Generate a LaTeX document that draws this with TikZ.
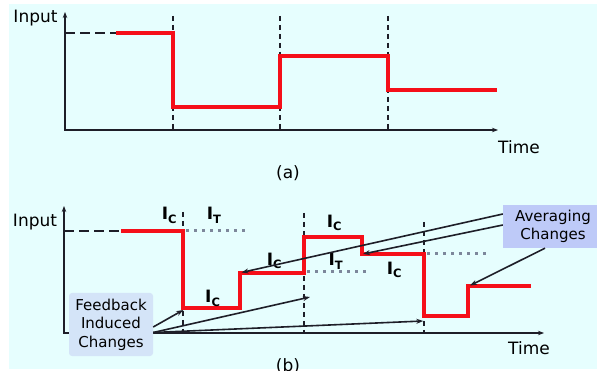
\documentclass[tikz,border=0pt]{standalone}
\usepackage{fontspec}
\setmainfont{DejaVu Sans}
\usetikzlibrary{arrows.meta}
\definecolor{bgc}{RGB}{230,254,254}
\definecolor{sig}{RGB}{245,15,25}
\definecolor{dotc}{RGB}{125,135,155}
\definecolor{boxa}{RGB}{190,202,248}
\definecolor{boxf}{RGB}{212,228,248}
\definecolor{axc}{RGB}{30,30,40}
\newcommand{\lblIC}{I\raisebox{-3.3pt}{\fontsize{11.5}{12}\selectfont C}}
\newcommand{\lblIT}{I\raisebox{-3.3pt}{\fontsize{11.5}{12}\selectfont T}}
\begin{document}
\begin{tikzpicture}[x=1pt,y=-1pt,
 axis/.style={draw=axc,line width=1.6pt,{Stealth[length=6pt,width=4.5pt]}-{Stealth[length=6pt,width=4.5pt]}},
 signal/.style={draw=sig,line width=3.5pt,line join=miter},
 vdash/.style={draw=axc,line width=1.3pt,dash pattern=on 5pt off 4pt},
 hdash/.style={draw=axc,line width=1.3pt,dash pattern=on 10pt off 5pt},
 dotline/.style={draw=dotc,line width=3pt,dash pattern=on 3pt off 5pt,dash phase=-3pt},
 lbl/.style={font=\fontsize{17}{20}\selectfont,inner sep=0pt},
 ic/.style={font=\fontsize{17}{20}\selectfont\bfseries,inner sep=0pt,anchor=base west},
 pointer/.style={draw=axc,line width=1.6pt,-{Stealth[length=7pt,width=5pt]}},
 note/.style={font=\fontsize{15}{18.5}\selectfont,align=center,inner sep=0pt}
]
\useasboundingbox (0,0) rectangle (597,371);
\fill[bgc] (9,4) rectangle (597,369);

% ---------------- panel (a)
\coordinate (ay) at (65,12);
\coordinate (a0) at (65,130);
\coordinate (ax) at (498,130);
\draw[axis] (ay) -- (a0) -- (ax);
\node[lbl,anchor=base] (ina) at (35.5,22.5) {Input};
\node[lbl,anchor=base west] (tima) at (498,154) {Time};
\node[lbl,anchor=base] (capa) at (288,179) {(a)};

\coordinate (a1t) at (173,16); \coordinate (a1b) at (173,130);
\coordinate (a2t) at (280,16); \coordinate (a2b) at (280,130);
\coordinate (a3t) at (388,16); \coordinate (a3b) at (388,130);
\draw[vdash] (a1t) -- (a1b);
\draw[vdash] (a2t) -- (a2b);
\draw[vdash] (a3t) -- (a3b);

\coordinate (ah0) at (65,33);
\coordinate (as0) at (116,33);
\draw[hdash] (ah0) -- (as0);
\draw[signal] (as0) -- (173,33) -- (173,107) -- (280,107) -- (280,56) -- (388,56) -- (388,90) -- (497,90);

% ---------------- panel (b)
\coordinate (by) at (64,206);
\coordinate (b0) at (64,333);
\coordinate (bx) at (544,333);
\draw[axis] (by) -- (b0) -- (bx);
\node[lbl,anchor=base] (inb) at (35,226.7) {Input};
\node[lbl,anchor=base west] (timb) at (508,354) {Time};
\node[lbl,anchor=base] (capb) at (288,371) {(b)};

\coordinate (b1t) at (183,212); \coordinate (b1b) at (183,333);
\coordinate (b2t) at (304,213); \coordinate (b2b) at (304,333);
\coordinate (b3t) at (424,222); \coordinate (b3b) at (424,333);
\draw[vdash] (b1t) -- (b1b);
\draw[vdash] (b2t) -- (b2b);
\draw[vdash] (b3t) -- (b3b);

\coordinate (bh0) at (64,231);
\coordinate (bs0) at (121,231);
\draw[hdash] (bh0) -- (bs0);

\coordinate (d1a) at (183,231); \coordinate (d1b) at (247,231);
\coordinate (d2a) at (304,272); \coordinate (d2b) at (368,272);
\coordinate (d3a) at (424,254); \coordinate (d3b) at (488,254);
\draw[dotline] (d1a) -- (d1b);
\draw[dotline] (d2a) -- (d2b);
\draw[dotline] (d3a) -- (d3b);

\coordinate (c1) at (240,273);
\coordinate (c2) at (362,254);
\coordinate (c3) at (468,286);
\draw[signal] (bs0) -- (183,231) -- (183,308) -- (240,308) -- (c1) -- (304,273) -- (304,237) -- (362,237) -- (c2) -- (424,254) -- (424,316) -- (468,316) -- (c3) -- (531,286);

\node[ic] (l1) at (161.7,220) {\lblIC};
\node[ic] (l2) at (206.7,220) {\lblIT};
\node[ic] (l3) at (266.7,265.4) {\lblIC};
\node[ic] (l4) at (205,302.7) {\lblIC};
\node[ic] (l5) at (326.7,227.7) {\lblIC};
\node[ic] (l6) at (328.3,266) {\lblIT};
\node[ic] (l7) at (386.7,274.4) {\lblIC};

% boxes
\node[note,fill=boxf,rounded corners=3pt,minimum width=84pt,minimum height=63pt] (fb) at (111,324.5) {Feedback\\Induced\\Changes};
\node[note,fill=boxa,minimum width=100pt,minimum height=43pt] (ab) at (553,226.5) {Averaging\\Changes};

\coordinate (f1) at (183.3,310);
\coordinate (f2) at (310,297);
\coordinate (f3) at (423.3,321);
\draw[pointer] ([yshift=-2.5pt]fb.east) -- (f1);
\draw[pointer] ([yshift=-8pt]fb.east) -- (f2);
\draw[pointer] ([yshift=-8pt]fb.east) -- (f3);

\coordinate (g1) at (241.5,272.5);
\coordinate (g2) at (363,254);
\coordinate (g3) at (470,285.5);
\draw[pointer] ([yshift=12.5pt]ab.west) -- (g1);
\draw[pointer] ([yshift=1.5pt]ab.west) -- (g2);
\draw[pointer] ([xshift=-8pt]ab.south) -- (g3);
\end{tikzpicture}
\end{document}
